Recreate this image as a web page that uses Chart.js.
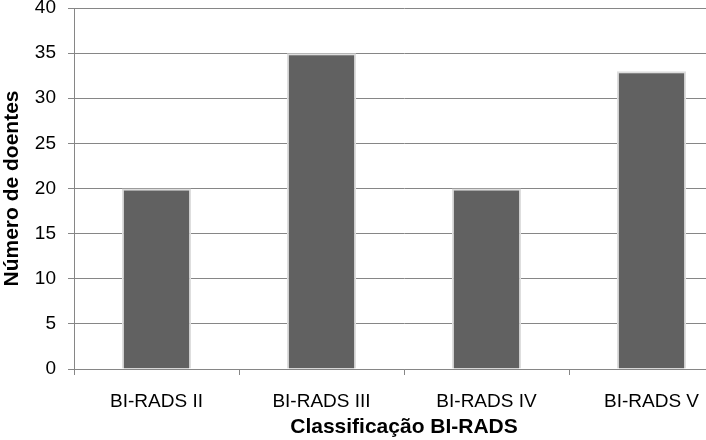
<!DOCTYPE html>
<html>
<head>
<meta charset="utf-8">
<script src="https://cdn.jsdelivr.net/npm/chart.js@4/dist/chart.umd.min.js"></script>
<style>
html,body{margin:0;padding:0;background:#fff;overflow:hidden;}
#wrap{width:706px;height:440px;overflow:hidden;position:relative;}
</style>
</head>
<body>
<div id="wrap"><canvas id="c" width="740" height="440" style="width:740px;height:440px;display:block"></canvas></div>
<script>
const categories = ["BI-RADS II", "BI-RADS III", "BI-RADS IV", "BI-RADS V"];
const doentes = [20, 35, 20, 33];
const yTicks = [0, 5, 10, 15, 20, 25, 30, 35, 40];
const xTitle = "Classificação BI-RADS";
const yTitle = "Número de doentes";

const FONT = "'Liberation Sans', Arial, sans-serif";
const GRID = '#868686';

new Chart(document.getElementById('c'), {
  type: 'bar',
  data: {
    labels: categories,
    datasets: [{
      data: doentes,
      backgroundColor: '#616161',
      borderColor: '#dedede',
      borderWidth: 2,
      barPercentage: 0.42,
      categoryPercentage: 1.0
    }]
  },
  options: {
    responsive: false,
    animation: false,
    devicePixelRatio: 1,
    layout: { padding: { top: 8, right: 6, left: 0, bottom: 0 } },
    plugins: { legend: { display: false }, tooltip: { enabled: false } },
    scales: {
      y: {
        min: 0, max: 40,
        afterBuildTicks: (s) => { s.ticks = yTicks.map(v => ({ value: v })); },
        afterFit: (s) => { s.width = 74; s.paddingTop = 0; s.paddingBottom = 0; },
        ticks: { color: '#000', font: { family: FONT, size: 19 }, padding: 12 },
        grid: { color: GRID, lineWidth: 1, tickLength: 6, drawTicks: true },
        border: { color: GRID, width: 1 },
        title: { display: true, text: yTitle, color: '#000', font: { family: FONT, size: 21, weight: 'bold' }, padding: { top: 0, bottom: 0 } }
      },
      x: {
        afterFit: (s) => { s.height = 71; s.paddingLeft = 0; s.paddingRight = 0; },
        ticks: { color: '#000', font: { family: FONT, size: 19 }, padding: 15 },
        grid: { color: GRID, lineWidth: 1, tickLength: 6, drawOnChartArea: false, drawTicks: true },
        border: { color: GRID, width: 1 },
        title: { display: true, text: xTitle, color: '#000', font: { family: FONT, size: 21, weight: 'bold' }, padding: { top: 0, bottom: 0 } }
      }
    }
  }
});
</script>
</body>
</html>
